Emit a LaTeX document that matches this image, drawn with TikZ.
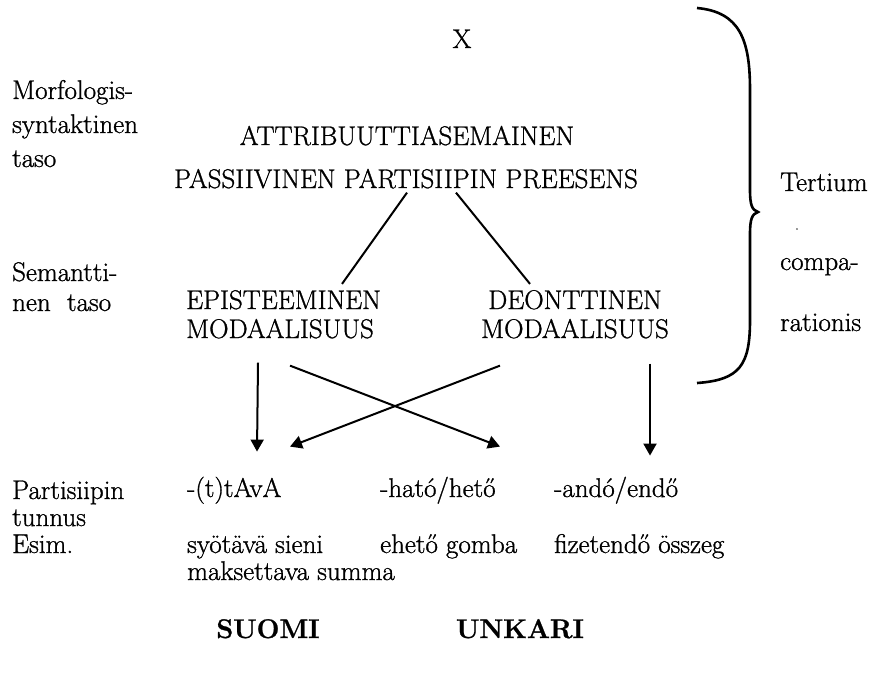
\documentclass[tikz,border=0pt]{standalone}
\usepackage{fontspec}
\setmainfont{Latin Modern Roman}[FakeBold=1]
\usetikzlibrary{arrows.meta,positioning}

\begin{document}
\begin{tikzpicture}[x=1pt,y=-1pt,
  font=\fontsize{27}{27}\selectfont,
  lvl/.style={inner sep=0pt, anchor=base west, align=left},
  term/.style={inner sep=0pt, anchor=base, align=center},
  link/.style={line width=2pt},
  arr/.style={line width=2pt, -{Triangle[length=12pt,width=13pt]}}]
\useasboundingbox (0,0) rectangle (885,677);

% levels on the left
\node[lvl] (morfo) at (12,167) {Morfologis-\\[7pt]syntaktinen\\[7pt]taso};
\node[lvl] (sem) at (12,311) {Semantti-\\[3pt]nen\ \ taso};
\node[lvl] (part) at (12,553) {Partisiipin\\tunnus\\Esim.};

% top of the scheme
\node[term] (x) at (462,48) {X};
\node[term] (attr) at (407,145) {ATTRIBUUTTIASEMAINEN};
\node[term] (pass) at (406,188) {PASSIIVINEN PARTISIIPIN PREESENS};
\node[lvl] (epi) at (186,338) {EPISTEEMINEN\\[2pt]MODAALISUUS};
\node[term] (deon) at (575,338) {DEONTTINEN\\[2pt]MODAALISUUS};

% suffixes and examples
\node[lvl] (tava) at (187,497) {-(t)tAvA};
\node[lvl] (hato) at (380,497) {-ható/hető};
\node[lvl] (ando) at (554,497) {-andó/endő};
\node[lvl] (ex1) at (187,580) {syötävä sieni\\maksettava summa};
\node[lvl] (ex2) at (380,553) {ehető gomba};
\node[lvl] (ex3) at (554,553) {fizetendő összeg};
\node[term] (suomi) at (268,638) {\bfseries SUOMI};
\node[term] (unkari) at (520,638) {\bfseries UNKARI};

% tertium comparationis
\node[lvl] (tert) at (780,191) {Tertium};
\node[inner sep=0pt] (dot) at (797,229) {\fontsize{12}{12}\selectfont .};
\node[lvl] (compa) at (780,270) {compa-};
\node[lvl] (ratio) at (780,331) {rationis};
\draw[line width=2.6pt] (697,8) .. controls (740,12) and (750,40) .. (750,90)
  -- (750,190) .. controls (750,205) and (752,210) .. (758,212)
  .. controls (752,214) and (750,219) .. (750,234) -- (750,320)
  .. controls (750,365) and (740,380) .. (697,383);

% connectors
\draw[link] ([xshift=1pt,yshift=-4pt]pass.south) -- ([xshift=156pt,yshift=6pt]epi.north west);
\draw[link] ([xshift=50pt,yshift=-4pt]pass.south) -- ([xshift=-45pt,yshift=6pt]deon.north);
\draw[arr] ([xshift=72pt,yshift=-24pt]epi.south west) -- ([xshift=70pt,yshift=25pt]tava.north west);
\draw[arr] ([xshift=104pt,yshift=-27pt]epi.south west) -- ([xshift=120pt,yshift=30pt]hato.north west);
\draw[arr] ([xshift=-75pt,yshift=-27pt]deon.south) -- ([xshift=103pt,yshift=30pt]tava.north west);
\draw[arr] ([xshift=75pt,yshift=-25pt]deon.south) -- ([xshift=96pt,yshift=21pt]ando.north west);
\end{tikzpicture}
\end{document}
